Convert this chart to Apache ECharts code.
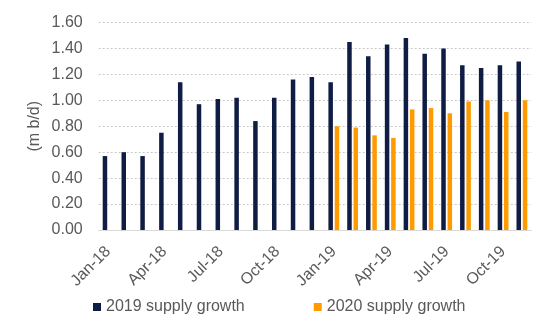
<!DOCTYPE html>
<html>
<head>
<meta charset="utf-8">
<script src="https://cdn.jsdelivr.net/npm/echarts@6/dist/echarts.min.js"></script>
<style>
  html, body { margin: 0; padding: 0; background: #fff; }
  #chart { width: 557px; height: 334px; }
</style>
</head>
<body>
<div id="chart"></div>
<script>
// Monthly categories, Jan-18 through Nov-19
const months = ['Jan-18','Feb-18','Mar-18','Apr-18','May-18','Jun-18','Jul-18','Aug-18','Sep-18','Oct-18','Nov-18','Dec-18',
                'Jan-19','Feb-19','Mar-19','Apr-19','May-19','Jun-19','Jul-19','Aug-19','Sep-19','Oct-19','Nov-19'];

// Supply growth forecasts (m b/d) by publication month
const growth2019 = [0.57, 0.60, 0.57, 0.75, 1.14, 0.97, 1.01, 1.02, 0.84, 1.02, 1.16, 1.18,
                    1.14, 1.45, 1.34, 1.43, 1.48, 1.36, 1.40, 1.27, 1.25, 1.27, 1.30];
const growth2020 = [null, null, null, null, null, null, null, null, null, null, null, null,
                    0.80, 0.79, 0.73, 0.71, 0.93, 0.94, 0.90, 0.99, 1.00, 0.91, 1.00];

const yTicks = { min: 0, max: 1.6, interval: 0.2 };

const font = 'Liberation Sans, Arial, sans-serif';
const grey = '#595959';

const chart = echarts.init(document.getElementById('chart'), null, { renderer: 'canvas' });
chart.setOption({
  animation: false,
  grid: { left: 98.7, right: 25.7, top: 22.5, bottom: 104 },
  legend: {
    left: 88, top: 294,
    itemWidth: 8, itemHeight: 8, itemGap: 69,
    icon: 'rect',
    textStyle: { fontFamily: font, fontSize: 16, color: grey },
    data: ['2019 supply growth', '2020 supply growth']
  },
  xAxis: {
    type: 'category',
    data: months,
    axisLine: { lineStyle: { color: '#d9d9d9', width: 1 } },
    axisTick: { interval: 2, length: 5, lineStyle: { color: '#d9d9d9' } },
    axisLabel: { interval: 2, rotate: 45, margin: 19, fontFamily: font, fontSize: 16, color: grey }
  },
  yAxis: {
    type: 'value',
    min: yTicks.min, max: yTicks.max, interval: yTicks.interval,
    name: '(m b/d)',
    nameLocation: 'middle',
    nameGap: 56,
    nameRotate: 90,
    nameMoveOverlap: false,
    nameTextStyle: { fontFamily: font, fontSize: 16, color: grey },
    axisLine: { show: false },
    axisTick: { show: false },
    axisLabel: { formatter: v => v.toFixed(2), margin: 16, fontFamily: font, fontSize: 16, color: grey },
    splitLine: { lineStyle: { color: '#c8c8c8', type: [2, 2], width: 1 } }
  },
  series: [
    {
      name: '2019 supply growth', type: 'bar', data: growth2019,
      barWidth: 4.5, barGap: '40%',
      itemStyle: { color: '#0f1c44' }
    },
    {
      name: '2020 supply growth', type: 'bar', data: growth2020,
      barWidth: 4.5,
      itemStyle: { color: '#ff9b00' }
    }
  ]
});
</script>
</body>
</html>
